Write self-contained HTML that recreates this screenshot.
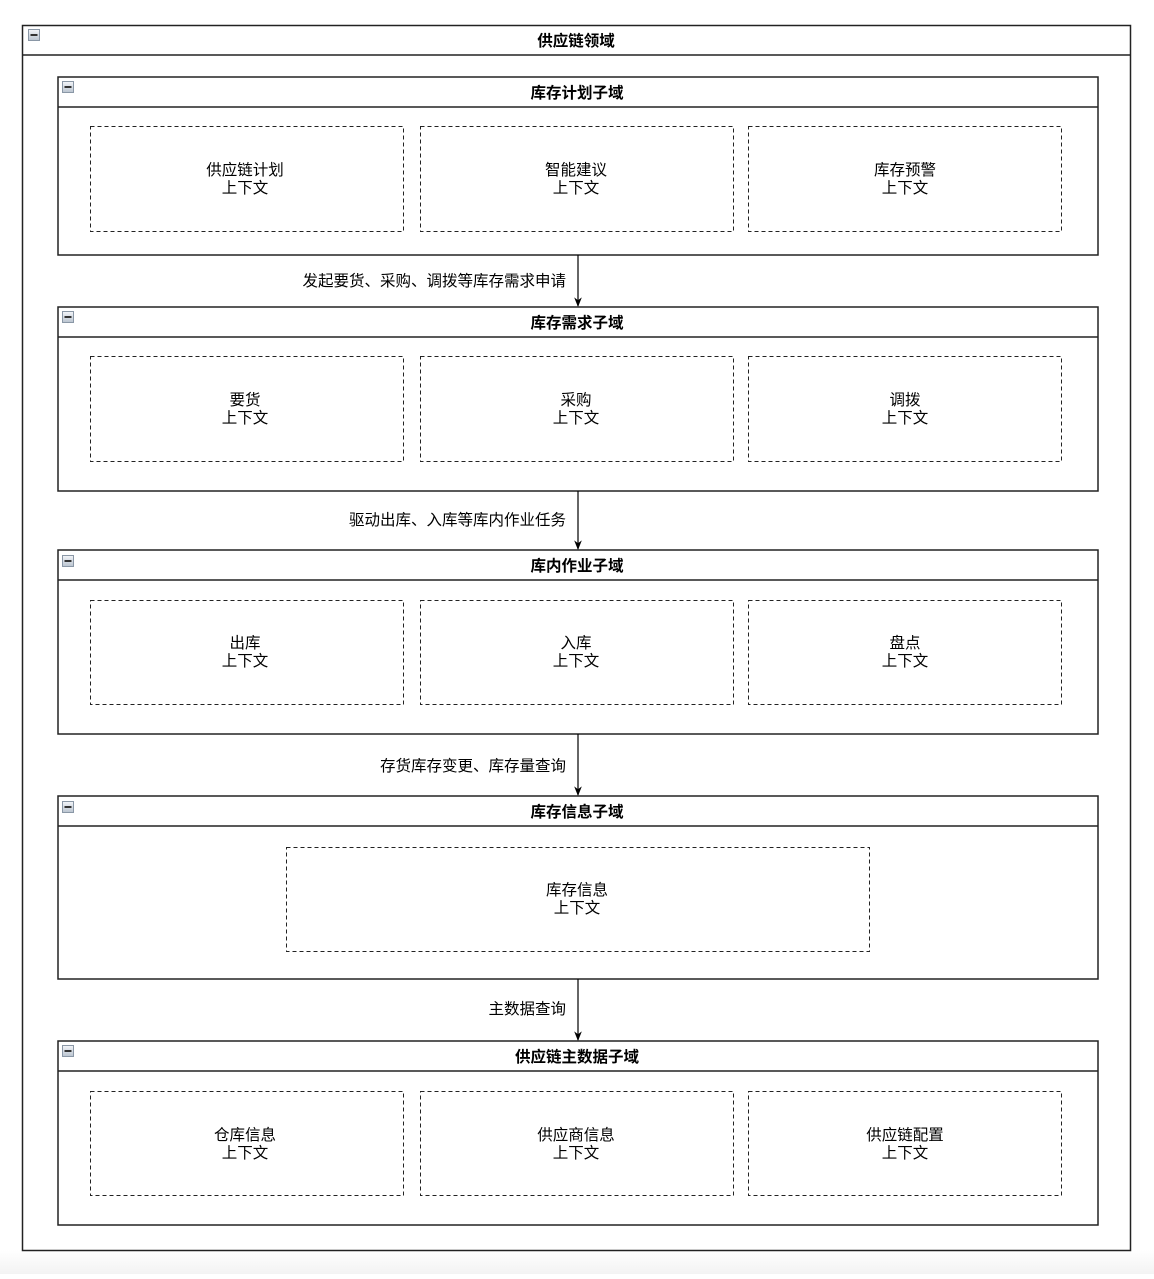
<!DOCTYPE html>
<html><head><meta charset="utf-8"><style>
html,body{margin:0;padding:0;background:#fff;}
body{width:1154px;height:1274px;overflow:hidden;}
svg text{font-family:"Liberation Sans","Noto Sans CJK SC",sans-serif;fill:#000;}
.t{font-size:15.5px;font-weight:bold;}
.b{font-size:15.5px;}
</style></head><body>
<svg width="1154" height="1274" viewBox="0 0 1154 1274" xmlns="http://www.w3.org/2000/svg">
<defs>
<linearGradient id="bg" x1="0" y1="0" x2="0" y2="1"><stop offset="0" stop-color="#fff"/><stop offset="1" stop-color="#f3f3f3"/></linearGradient>
<linearGradient id="ic" x1="0" y1="0" x2="0" y2="1"><stop offset="0" stop-color="#f4f6f9"/><stop offset="1" stop-color="#b9c3cf"/></linearGradient>
<g id="icon"><rect x="0.5" y="0.5" width="11" height="11" fill="url(#ic)" stroke="#8a97a6"/><rect x="2.5" y="5" width="7" height="2" fill="#333"/></g>
<marker id="ar" viewBox="0 0 10 10" refX="9" refY="5" markerWidth="8" markerHeight="8" orient="auto"><path d="M0,1 L10,5 L0,9 L3,5 z" fill="#000"/></marker>
</defs>
<rect x="0" y="1250" width="1154" height="24" fill="url(#bg)"/>
<rect x="22.5" y="25.5" width="1108" height="1225" fill="#fff" stroke="#222" stroke-width="1.5"/>
<line x1="22" y1="55" x2="1130" y2="55" stroke="#222" stroke-width="1.5"/>
<use href="#icon" x="28" y="29"/>
<text class="t" x="576" y="46" text-anchor="middle">供应链领域</text>

<g fill="none" stroke="#222" stroke-width="1.5">
<rect x="58" y="77" width="1040" height="178"/><line x1="58" y1="107" x2="1098" y2="107"/>
<rect x="58" y="307" width="1040" height="184"/><line x1="58" y1="337" x2="1098" y2="337"/>
<rect x="58" y="550" width="1040" height="184"/><line x1="58" y1="580" x2="1098" y2="580"/>
<rect x="58" y="796" width="1040" height="183"/><line x1="58" y1="826" x2="1098" y2="826"/>
<rect x="58" y="1041" width="1040" height="184"/><line x1="58" y1="1071" x2="1098" y2="1071"/>
</g>
<use href="#icon" x="62" y="81"/><use href="#icon" x="62" y="311"/><use href="#icon" x="62" y="555"/><use href="#icon" x="62" y="801"/><use href="#icon" x="62" y="1045"/>
<text class="t" x="577" y="98" text-anchor="middle">库存计划子域</text>
<text class="t" x="577" y="328" text-anchor="middle">库存需求子域</text>
<text class="t" x="577" y="571" text-anchor="middle">库内作业子域</text>
<text class="t" x="577" y="817" text-anchor="middle">库存信息子域</text>
<text class="t" x="577" y="1062" text-anchor="middle">供应链主数据子域</text>

<g fill="none" stroke="#222" stroke-width="1" stroke-dasharray="4,3">
<rect x="90.5" y="126.5" width="313" height="105"/><rect x="420.5" y="126.5" width="313" height="105"/><rect x="748.5" y="126.5" width="313" height="105"/>
<rect x="90.5" y="356.5" width="313" height="105"/><rect x="420.5" y="356.5" width="313" height="105"/><rect x="748.5" y="356.5" width="313" height="105"/>
<rect x="90.5" y="600.5" width="313" height="104"/><rect x="420.5" y="600.5" width="313" height="104"/><rect x="748.5" y="600.5" width="313" height="104"/>
<rect x="286.5" y="847.5" width="583" height="104"/>
<rect x="90.5" y="1091.5" width="313" height="104"/><rect x="420.5" y="1091.5" width="313" height="104"/><rect x="748.5" y="1091.5" width="313" height="104"/>
</g>
<g text-anchor="middle">
<text class="b" x="245" y="175">供应链计划</text><text class="b" x="245" y="193">上下文</text>
<text class="b" x="576" y="175">智能建议</text><text class="b" x="576" y="193">上下文</text>
<text class="b" x="905" y="175">库存预警</text><text class="b" x="905" y="193">上下文</text>
<text class="b" x="245" y="405">要货</text><text class="b" x="245" y="423">上下文</text>
<text class="b" x="576" y="405">采购</text><text class="b" x="576" y="423">上下文</text>
<text class="b" x="905" y="405">调拨</text><text class="b" x="905" y="423">上下文</text>
<text class="b" x="245" y="648">出库</text><text class="b" x="245" y="666">上下文</text>
<text class="b" x="576" y="648">入库</text><text class="b" x="576" y="666">上下文</text>
<text class="b" x="905" y="648">盘点</text><text class="b" x="905" y="666">上下文</text>
<text class="b" x="577" y="895">库存信息</text><text class="b" x="577" y="913">上下文</text>
<text class="b" x="245" y="1140">仓库信息</text><text class="b" x="245" y="1158">上下文</text>
<text class="b" x="576" y="1140">供应商信息</text><text class="b" x="576" y="1158">上下文</text>
<text class="b" x="905" y="1140">供应链配置</text><text class="b" x="905" y="1158">上下文</text>
</g>
<g stroke="#000" stroke-width="1.2" marker-end="url(#ar)">
<line x1="578" y1="255" x2="578" y2="306"/>
<line x1="578" y1="491" x2="578" y2="549"/>
<line x1="578" y1="734" x2="578" y2="795"/>
<line x1="578" y1="979" x2="578" y2="1040"/>
</g>
<g text-anchor="end">
<text class="b" x="566" y="286">发起要货、采购、调拨等库存需求申请</text>
<text class="b" x="566" y="525">驱动出库、入库等库内作业任务</text>
<text class="b" x="566" y="771">存货库存变更、库存量查询</text>
<text class="b" x="566" y="1014">主数据查询</text>
</g>
</svg>
</body></html>
